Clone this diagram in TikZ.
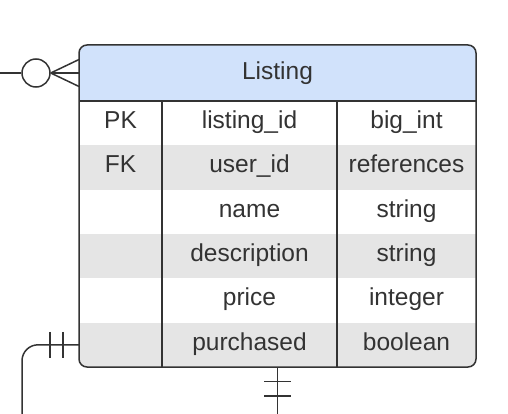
\documentclass[tikz,border=0pt]{standalone}
\usepackage{fontspec}
\setmainfont{Liberation Sans}
\usetikzlibrary{positioning,calc}
\definecolor{ink}{RGB}{51,51,51}
\definecolor{headblue}{RGB}{209,226,251}
\definecolor{rowgray}{RGB}{229,229,229}

\begin{document}
\begin{tikzpicture}[%
	x=1pt,y=-1pt,node distance=44.33pt,on grid,
	font=\fontsize{24.5}{29}\selectfont,
	line/.style={draw=ink,line width=1.5pt},
	cell/.style={text=ink,text height=17pt,text depth=6pt,inner sep=0pt,outer sep=0pt},
	band/.style={minimum width=397pt,minimum height=44.33pt,inner sep=0pt,outer sep=0pt}]
	\useasboundingbox (0,0) rectangle (508,414);

	% header and shaded rows
	\begin{scope}
		\clip[rounded corners=8pt] (79,45) rectangle (476,367);
		\node[band,fill=headblue,text=ink,minimum height=56pt] (H) at (277.5,73) {Listing};
		\foreach \i in {2,4,6}
			\node[band,fill=rowgray] (g\i) at (277.5,{101+44.33*(\i-0.5)}) {};
	\end{scope}

	\node[line,rounded corners=8pt,minimum width=397pt,minimum height=322pt,
		inner sep=0pt,outer sep=0pt] (tbl) at (277.5,206) {};
	\draw[line] (H.south west) -- (H.south east);
	\draw[line] (162,101) -- (162,367);
	\draw[line] (337,101) -- (337,367);

	\foreach \k/\f/\t [count=\i] in {PK/listing\_id/big\_int, FK/user\_id/references,
		/name/string, /description/string, /price/integer, /purchased/boolean}{
		\node[cell] (k\i) at (120.5,{101+44.33*(\i-0.5)}) {\k};
		\node[cell] (f\i) at (249.5,{101+44.33*(\i-0.5)}) {\f};
		\node[cell] (t\i) at (406.5,{101+44.33*(\i-0.5)}) {\t};
	}

	% zero or many
	\node[line,circle,minimum size=28pt,inner sep=0pt] (zero) at (36,73) {};
	\coordinate (lend) at (0,73);
	\draw[line] (lend) -- (zero.west);
	\draw[line] (zero.east) -- ($(H.west)+(0,-13.5)$);
	\draw[line] (zero.east) -- (H.west);
	\draw[line] (zero.east) -- ($(H.west)+(0,13.5)$);

	% one and only one
	\coordinate (bl) at (22,414);
	\draw[line,rounded corners=16pt] (g6.west) -| (bl);
	\draw[line] ($(g6.west)+(-29,-13)$) -- ++(0,26);
	\draw[line] ($(g6.west)+(-16,-13)$) -- ++(0,26);

	\coordinate (bb) at (277.5,414);
	\draw[line] (tbl.south) -- (bb);
	\draw[line] ($(tbl.south)+(-13.5,14.7)$) -- ++(27,0);
	\draw[line] ($(tbl.south)+(-13.5,29)$) -- ++(27,0);

\end{tikzpicture}
\end{document}
